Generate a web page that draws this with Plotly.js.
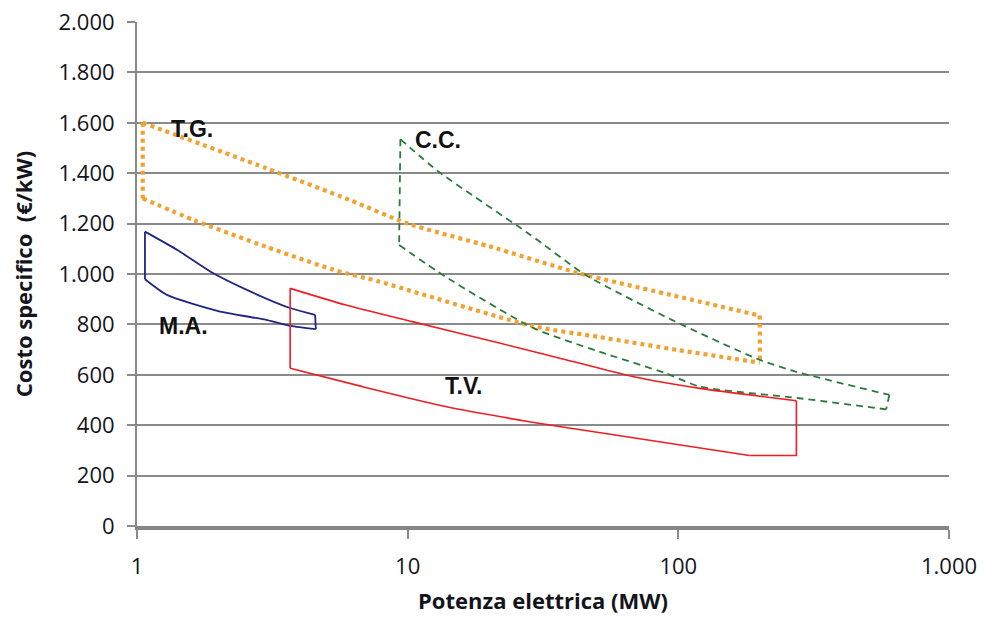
<!DOCTYPE html>
<html>
<head>
<meta charset="utf-8">
<script src="https://cdn.plot.ly/plotly-3.0.1.min.js"></script>
<style>
  html, body { margin: 0; padding: 0; background: #ffffff; }
  #chart { width: 984px; height: 621px; }
</style>
</head>
<body>
<div id="chart"></div>
<script>
// ---- Data ----
// T.G. (turbine a gas): upper and lower boundary
const tgUpperX = [1.05, 3, 6.1, 10, 20, 43, 100, 200];
const tgUpperY = [1600, 1420, 1294, 1200, 1110, 1003, 910, 835];
const tgLowerX = [1.05, 1.62, 3, 5.35, 7.84, 29, 51, 100, 200];
const tgLowerY = [1300, 1214, 1108, 1016, 970, 793, 750, 698, 648];

// C.C. (ciclo combinato)
const ccUpperX = [9.4, 12.9, 28, 45.5, 95, 200, 273, 602];
const ccUpperY = [1535, 1409, 1160, 996, 817, 659, 612, 520];
const ccLowerX = [9.3, 13.8, 29.2, 51, 90, 120, 280, 586];
const ccLowerY = [1115, 989, 785, 692, 606, 553, 507, 463];

// M.A. (motori alternativi)
const maUpperX = [1.07, 1.41, 1.87, 2.63, 3.7, 4.55];
const maUpperY = [1168, 1095, 1009, 930, 864, 838];
const maLowerX = [1.07, 1.29, 1.98, 3.03, 3.7, 4.58];
const maLowerY = [979, 917, 854, 817, 794, 781];

// T.V. (turbine a vapore)
const tvUpperX = [3.68, 5.91, 10.4, 22, 38.7, 68.4, 120, 273];
const tvUpperY = [943, 877, 811, 725, 659, 592, 546, 497];
const tvLowerX = [3.68, 6.81, 13.8, 28.1, 53, 183, 273];
const tvLowerY = [626, 553, 474, 414, 368, 280, 280];

const regionNames = ["T.G.", "C.C.", "M.A.", "T.V."];

const xTickVals = [1, 10, 100, 1000];
const xTickText = ["1", "10", "100", "1.000"];
const yTickVals = [0, 200, 400, 600, 800, 1000, 1200, 1400, 1600, 1800, 2000];
const yTickText = ["0", "200", "400", "600", "800", "1.000", "1.200", "1.400", "1.600", "1.800", "2.000"];

// ---- Build outline traces (curved sides as splines, straight ends as lines) ----
function outline(name, ux, uy, lx, ly, line, flatTail) {
  const out = [];
  const sp = Object.assign({}, line, { shape: "spline", smoothing: 0.6 });
  const ln = Object.assign({}, line, { shape: "linear" });
  out.push({ x: ux, y: uy, name: name, mode: "lines", type: "scatter", line: sp });
  const nL = lx.length - (flatTail ? 1 : 0);
  out.push({ x: lx.slice(0, nL), y: ly.slice(0, nL), name: name, mode: "lines", type: "scatter", line: sp });
  // left edge
  out.push({ x: [ux[0], lx[0]], y: [uy[0], ly[0]], name: name, mode: "lines", type: "scatter", line: ln });
  // right edge (+ flat tail)
  const rx = [ux[ux.length - 1]].concat(lx.slice(nL - (flatTail ? 1 : 1)).reverse());
  const ry = [uy[uy.length - 1]].concat(ly.slice(nL - (flatTail ? 1 : 1)).reverse());
  out.push({ x: rx, y: ry, name: name, mode: "lines", type: "scatter", line: ln });
  return out;
}

const traces = [].concat(
  outline(regionNames[0], tgUpperX, tgUpperY, tgLowerX, tgLowerY, { color: "#F2A231", width: 4.2, dash: "4px,4px" }, false),
  outline(regionNames[1], ccUpperX, ccUpperY, ccLowerX, ccLowerY, { color: "#2B7A3B", width: 1.8, dash: "7px,5px" }, false),
  outline(regionNames[2], maUpperX, maUpperY, maLowerX, maLowerY, { color: "#1F2684", width: 1.8 }, false),
  outline(regionNames[3], tvUpperX, tvUpperY, tvLowerX, tvLowerY, { color: "#EE1D24", width: 1.6 }, true)
);

const tickFont = { family: "Open Sans, Lato, sans-serif", size: 22, color: "#14141c" };
const titleFont = { family: "Open Sans, Lato, sans-serif", size: 22, color: "#14141c" };
const labFont = { family: "Liberation Sans, Arial, sans-serif", size: 23, color: "#111111", weight: "bold" };

const layout = {
  width: 984, height: 621,
  margin: { l: 137, r: 35, t: 22, b: 95, pad: 0 },
  paper_bgcolor: "#ffffff", plot_bgcolor: "#ffffff",
  showlegend: false,
  xaxis: {
    type: "log", range: [0, 3], autorange: false,
    tickvals: xTickVals, ticktext: xTickText,
    ticks: "outside", ticklen: 9, tickwidth: 2, tickcolor: "#8a8a8a",
    showgrid: false, showline: true, linecolor: "#868686", linewidth: 4,
    zeroline: false, tickfont: tickFont, ticklabelstandoff: 9,
    title: { text: "<b>Potenza elettrica (MW)</b>", standoff: 15, font: titleFont }
  },
  yaxis: {
    range: [0, 2000], autorange: false,
    tickvals: yTickVals, ticktext: yTickText,
    ticks: "outside", ticklen: 8, tickwidth: 2, tickcolor: "#8a8a8a",
    showgrid: true, gridcolor: "#8a8a8a", gridwidth: 2,
    showline: true, linecolor: "#8a8a8a", linewidth: 2,
    zeroline: false, tickfont: tickFont, ticklabelstandoff: 8,
    title: { text: "<b>Costo specifico\u00a0\u00a0(€/kW)</b>", standoff: 20, font: titleFont }
  },
  annotations: [
    { text: regionNames[0], xref: "x", yref: "y", x: Math.log10(1.31), y: 1575, xanchor: "left", yanchor: "middle", showarrow: false, font: labFont },
    { text: regionNames[1], xref: "x", yref: "y", x: Math.log10(10.5), y: 1530, xanchor: "left", yanchor: "middle", showarrow: false, font: labFont },
    { text: regionNames[2], xref: "x", yref: "y", x: Math.log10(1.19), y: 794, xanchor: "left", yanchor: "middle", showarrow: false, font: labFont },
    { text: regionNames[3], xref: "x", yref: "y", x: Math.log10(13.5), y: 556, xanchor: "left", yanchor: "middle", showarrow: false, font: labFont }
  ]
};

Plotly.newPlot("chart", traces, layout, { staticPlot: true, displayModeBar: false });
</script>
</body>
</html>
